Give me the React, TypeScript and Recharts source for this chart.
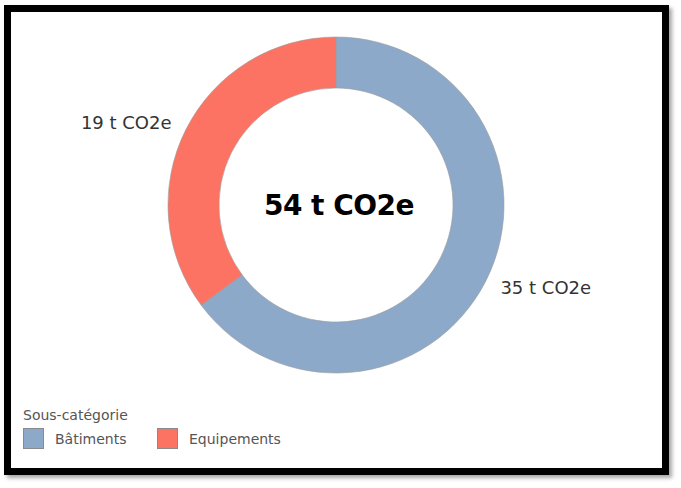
import { Pie, PieChart, Cell, Legend } from "recharts"

// categories and values
const CATEGORIES = ["Bâtiments", "Equipements"]
const VALUES = [35, 19]
const UNIT = "t CO2e"
const LEGEND_TITLE = "Sous-catégorie"

const COLORS: Record<string, string> = {
  "Bâtiments": "#8DA9C9",
  Equipements: "#FD7363",
}

const RAD = Math.PI / 180
const LABEL_FONT = "'DejaVu Sans', Verdana, sans-serif"

const data = CATEGORIES.map((name, i) => ({ name, value: VALUES[i] }))
const total = VALUES.reduce((acc, v) => acc + v, 0)

// slice label outside the ring, no leader line
const renderLabel = (props: any) => {
  const { cx, cy, midAngle, outerRadius, value } = props
  const r = outerRadius + 16
  const x = cx + r * Math.cos(-midAngle * RAD)
  const y = cy + r * Math.sin(-midAngle * RAD)
  return (
    <text
      x={x}
      y={y}
      fill="#333"
      fontSize={18}
      fontFamily={LABEL_FONT}
      textAnchor={x > cx ? "start" : "end"}
      dominantBaseline="central"
    >
      {`${value} ${UNIT}`}
    </text>
  )
}

const renderLegend = () => (
  <div style={{ fontFamily: LABEL_FONT, fontSize: 14, color: "#555" }}>
    <div style={{ marginBottom: 5 }}>{LEGEND_TITLE}</div>
    <div style={{ display: "flex", alignItems: "center" }}>
      {data.map((d) => (
        <div key={d.name} style={{ display: "flex", alignItems: "center", width: 134 }}>
          <span
            style={{
              display: "inline-block",
              width: 19,
              height: 19,
              backgroundColor: COLORS[d.name],
              border: "1px solid #8a8a8a",
              marginRight: 11,
            }}
          />
          <span>{d.name}</span>
        </div>
      ))}
    </div>
  </div>
)

export default function App() {
  return (
    <div
      style={{
        position: "absolute",
        left: 0,
        top: 0,
        width: 681,
        height: 488,
        background: "#fff",
        overflow: "hidden",
      }}
    >
      {/* black frame with a soft shadow */}
      <div
        style={{
          position: "absolute",
          left: 4,
          top: 5,
          width: 665,
          height: 470,
          boxSizing: "border-box",
          border: "7px solid #000",
          boxShadow: "3px 3px 4px rgba(0,0,0,0.35)",
        }}
      />
      <div style={{ position: "absolute", left: 0, top: 0 }}>
        <PieChart width={681} height={488} margin={{ top: 0, right: 0, bottom: 0, left: 0 }}>
          <Pie
            data={data}
            dataKey="value"
            nameKey="name"
            cx={336}
            cy={205}
            outerRadius={168}
            innerRadius={117}
            startAngle={90}
            endAngle={-270}
            stroke="#9a9a9a"
            strokeWidth={0.6}
            label={renderLabel}
            labelLine={false}
            isAnimationActive={false}
          >
            {data.map((entry, idx) => (
              <Cell key={`cell-${idx}`} fill={COLORS[entry.name]} />
            ))}
          </Pie>
          <text
            x={339}
            y={205}
            textAnchor="middle"
            dominantBaseline="central"
            fontFamily={LABEL_FONT}
            fontWeight="bold"
            fontSize={28}
            letterSpacing={-0.5}
            fill="#000"
          >
            {`${total} ${UNIT}`}
          </text>
          <Legend
            content={renderLegend}
            wrapperStyle={{ position: "absolute", left: 23, top: 407, width: 400 }}
          />
        </PieChart>
      </div>
    </div>
  )
}
